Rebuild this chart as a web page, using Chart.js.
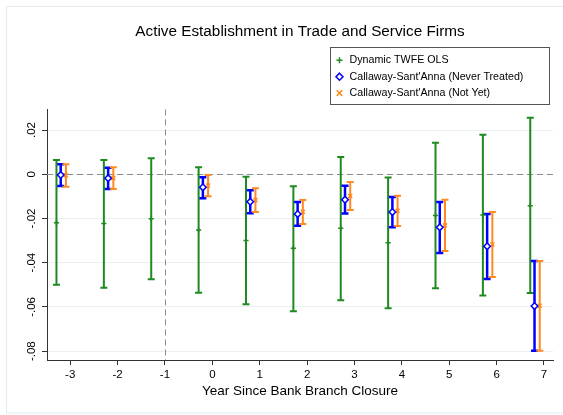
<!DOCTYPE html>
<html>
<head>
<meta charset="utf-8">
<script src="https://cdn.jsdelivr.net/npm/chart.js@4.4.1/dist/chart.umd.min.js"></script>
<style>
  html, body { margin: 0; padding: 0; background: #fff; }
  #wrap { width: 563px; height: 415px; }
</style>
</head>
<body>
<div id="wrap"><canvas id="eventChart" width="563" height="415"></canvas></div>
<script>
// event time (years relative to closure)
var years = [-3, -2, -1, 0, 1, 2, 3, 4, 5, 6, 7];
var xTicks = [-3, -2, -1, 0, 1, 2, 3, 4, 5, 6, 7];
var yTicks = [-0.08, -0.06, -0.04, -0.02, 0, 0.02];
var yTickLabels = ['-.08', '-.06', '-.04', '-.02', '0', '.02'];

var seriesNames = ['Dynamic TWFE OLS', "Callaway-Sant'Anna (Never Treated)", "Callaway-Sant'Anna (Not Yet)"];

// Dynamic TWFE OLS: estimate and CI
var twfeEst = [-0.0219, -0.0223, -0.0201, -0.0252, -0.0300, -0.0335, -0.0244, -0.0310, -0.0187, -0.0184, -0.0143];
var twfeLo  = [-0.0500, -0.0513, -0.0475, -0.0536, -0.0588, -0.0619, -0.0570, -0.0606, -0.0515, -0.0548, -0.0537];
var twfeHi  = [ 0.0065,  0.0065,  0.0072,  0.0032, -0.0011, -0.0054,  0.0078, -0.0015,  0.0143,  0.0179,  0.0255];

// Callaway-Sant'Anna, never treated controls (nothing at -1)
var csNeverEst = [-0.0003, -0.0018, null, -0.0059, -0.0124, -0.0180, -0.0115, -0.0171, -0.0240, -0.0326, -0.0596];
var csNeverLo  = [-0.0053, -0.0067, null, -0.0109, -0.0176, -0.0233, -0.0178, -0.0240, -0.0356, -0.0474, -0.0798];
var csNeverHi  = [ 0.0045,  0.0029, null, -0.0014, -0.0072, -0.0125, -0.0052, -0.0103, -0.0125, -0.0180, -0.0392];

// Callaway-Sant'Anna, not yet treated controls
var csNotYetEst = [-0.0005, -0.0017, null, -0.0051, -0.0117, -0.0170, -0.0098, -0.0165, -0.0231, -0.0318, -0.0595];
var csNotYetLo  = [-0.0056, -0.0067, null, -0.0100, -0.0171, -0.0225, -0.0162, -0.0234, -0.0347, -0.0465, -0.0798];
var csNotYetHi  = [ 0.0045,  0.0032, null, -0.0003, -0.0063, -0.0116, -0.0035, -0.0097, -0.0115, -0.0171, -0.0392];

var green = '#1f8a1f';
var blue = '#0000ff';
var orange = '#ff8a1f';
var FONT = '"Liberation Sans", Arial, Helvetica, sans-serif';

Chart.defaults.font.family = FONT;
Chart.defaults.color = '#000';

// dodge the three series a little to the left of each year
function makePoints(est, lo, hi, shift) {
  var pts = [];
  years.forEach(function (yr, i) {
    if (est[i] === null) return;
    pts.push({ x: yr + shift, y: est[i], lo: lo[i], hi: hi[i] });
  });
  return pts;
}

// dashed reference lines at y = 0 and x = -1
var refLines = {
  id: 'refLines',
  beforeDatasetsDraw(chart) {
    var ctx = chart.ctx, a = chart.chartArea;
    var x0 = chart.scales.x.getPixelForValue(-1);
    var y0 = chart.scales.y.getPixelForValue(0);
    ctx.save();
    ctx.strokeStyle = '#8c8c8c';
    ctx.lineWidth = 1;
    ctx.setLineDash([6, 4]);
    ctx.beginPath();
    ctx.moveTo(a.left, Math.round(y0) + 0.5);
    ctx.lineTo(a.right, Math.round(y0) + 0.5);
    ctx.moveTo(Math.round(x0) + 0.5, a.top);
    ctx.lineTo(Math.round(x0) + 0.5, a.bottom);
    ctx.stroke();
    ctx.restore();
  }
};

// capped confidence intervals
var errorBars = {
  id: 'errorBars',
  beforeDatasetsDraw(chart) {
    var ctx = chart.ctx, xs = chart.scales.x, ys = chart.scales.y;
    var cap = 3.5;
    chart.data.datasets.forEach(function (ds) {
      ctx.save();
      ctx.strokeStyle = ds.borderColor;
      ctx.lineWidth = ds.ciWidth;
      ds.data.forEach(function (p) {
        var px = xs.getPixelForValue(p.x);
        var top = ys.getPixelForValue(p.hi);
        var bot = ys.getPixelForValue(p.lo);
        ctx.beginPath();
        ctx.moveTo(px, top); ctx.lineTo(px, bot);
        ctx.moveTo(px - cap, top); ctx.lineTo(px + cap, top);
        ctx.moveTo(px - cap, bot); ctx.lineTo(px + cap, bot);
        ctx.stroke();
      });
      ctx.restore();
    });
  }
};

function drawMarker(ctx, style, x, y, color) {
  ctx.save();
  ctx.strokeStyle = color;
  ctx.lineWidth = 1.5;
  ctx.beginPath();
  if (style === 'cross') {
    ctx.moveTo(x - 3, y); ctx.lineTo(x + 3, y);
    ctx.moveTo(x, y - 3); ctx.lineTo(x, y + 3);
  } else if (style === 'rectRot') {
    ctx.moveTo(x, y - 3.5); ctx.lineTo(x + 3.5, y);
    ctx.lineTo(x, y + 3.5); ctx.lineTo(x - 3.5, y);
    ctx.closePath();
  } else {
    ctx.moveTo(x - 2.8, y - 2.8); ctx.lineTo(x + 2.8, y + 2.8);
    ctx.moveTo(x + 2.8, y - 2.8); ctx.lineTo(x - 2.8, y + 2.8);
  }
  ctx.stroke();
  ctx.restore();
}

// Stata-like boxed legend, stacked vertically above the top right of the plot
var boxLegend = {
  id: 'boxLegend',
  afterDraw(chart) {
    var ctx = chart.ctx, a = chart.chartArea;
    var w = 219, h = 57;
    var left = a.right - 4.5 - w, top = a.top - 5 - h;
    ctx.save();
    ctx.strokeStyle = '#555';
    ctx.lineWidth = 1;
    ctx.strokeRect(Math.round(left) + 0.5, Math.round(top) + 0.5, w, h);
    ctx.font = '10.7px ' + FONT;
    ctx.fillStyle = '#000';
    ctx.textBaseline = 'middle';
    chart.data.datasets.forEach(function (ds, i) {
      var cy = top + 12.8 + i * 16.4;
      drawMarker(ctx, ds.pointStyle, left + 10, cy, ds.borderColor);
      ctx.fillText(ds.label, left + 20, cy);
    });
    ctx.restore();
  }
};

// faint outer frame of the graph region
var outerFrame = {
  id: 'outerFrame',
  beforeDraw(chart) {
    var ctx = chart.ctx;
    ctx.save();
    ctx.fillStyle = '#fff';
    ctx.fillRect(0, 0, chart.width, chart.height);
    ctx.strokeStyle = '#e3eaf0';
    ctx.lineWidth = 1;
    ctx.strokeRect(6.5, 6.5, 620, 406.5);
    ctx.restore();
  }
};

var ctx = document.getElementById('eventChart').getContext('2d');
var eventChart = new Chart(ctx, {
  type: 'scatter',
  data: {
    datasets: [{
      label: seriesNames[0],
      data: makePoints(twfeEst, twfeLo, twfeHi, -0.29),
      borderColor: green,
      backgroundColor: green,
      pointStyle: 'cross',
      pointRadius: 2.6,
      borderWidth: 1.5,
      ciWidth: 2
    }, {
      label: seriesNames[1],
      data: makePoints(csNeverEst, csNeverLo, csNeverHi, -0.2),
      borderColor: blue,
      backgroundColor: '#fff',
      pointStyle: 'rectRot',
      pointRadius: 3.3,
      borderWidth: 1.5,
      ciWidth: 2.5
    }, {
      label: seriesNames[2],
      data: makePoints(csNotYetEst, csNotYetLo, csNotYetHi, -0.09),
      borderColor: orange,
      backgroundColor: orange,
      pointStyle: 'crossRot',
      pointRadius: 2.8,
      borderWidth: 1.5,
      ciWidth: 2
    }]
  },
  options: {
    responsive: false,
    animation: false,
    devicePixelRatio: 1,
    layout: { padding: { left: 0, right: 10, top: 0, bottom: 0 } },
    plugins: {
      legend: { display: false },
      tooltip: { enabled: false },
      title: {
        display: true,
        // title spans only the plot width, so it centres over the plot
        fullSize: false,
        text: 'Active Establishment in Trade and Service Firms',
        font: { size: 15.3, weight: 'normal' },
        color: '#000',
        padding: { top: 23, bottom: 68.1 }
      }
    },
    scales: {
      x: {
        type: 'linear',
        min: -3.49,
        max: 7.19,
        afterBuildTicks: function (scale) {
          scale.ticks = xTicks.map(function (v) { return { value: v }; });
        },
        afterFit: function (scale) { scale.height = 55; },
        ticks: {
          font: { size: 11.5 },
          color: '#000',
          padding: 3,
          maxRotation: 0
        },
        grid: { drawOnChartArea: false, drawTicks: true, tickLength: 5, tickColor: '#333' },
        border: { display: true, color: '#333', width: 1 },
        title: {
          display: true,
          text: 'Year Since Bank Branch Closure',
          font: { size: 13.5 },
          color: '#000',
          padding: { top: 0, bottom: 15.6 }
        }
      },
      y: {
        type: 'linear',
        min: -0.084,
        max: 0.0293,
        afterBuildTicks: function (scale) {
          scale.ticks = yTicks.map(function (v) { return { value: v }; });
        },
        afterFit: function (scale) { scale.width = 47; },
        ticks: {
          font: { size: 11.5 },
          color: '#000',
          minRotation: 90,
          maxRotation: 90,
          crossAlign: 'center',
          padding: 0.5,
          callback: function (value) { return yTickLabels[yTicks.indexOf(value)]; }
        },
        grid: { color: '#e8f0f2', lineWidth: 1, drawTicks: true, tickLength: 5, tickColor: '#333' },
        border: { display: true, color: '#333', width: 1 }
      }
    }
  },
  plugins: [outerFrame, refLines, errorBars, boxLegend]
});
</script>
</body>
</html>
